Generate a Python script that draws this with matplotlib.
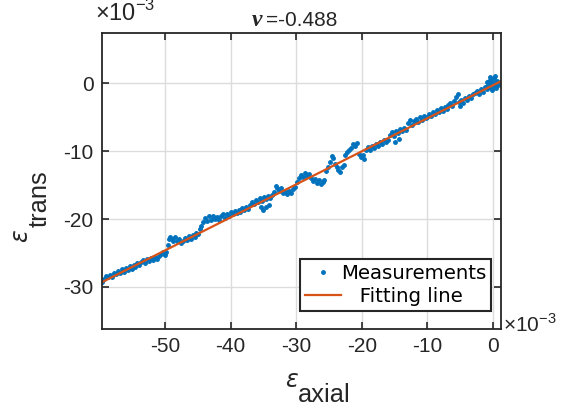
import numpy as np
import matplotlib
matplotlib.use("Agg")
import matplotlib.pyplot as plt

plt.rcParams["axes.unicode_minus"] = False
plt.rcParams["font.family"] = ["Liberation Sans", "DejaVu Sans"]
plt.rcParams["mathtext.fontset"] = "custom"
plt.rcParams["mathtext.rm"] = "Liberation Sans"
plt.rcParams["mathtext.it"] = "DejaVu Sans:italic"

# measured strains, in units of 1e-3
axial = [
    -59.6, -59.3, -59.0, -58.7, -58.4, -58.1, -57.8, -57.5, -57.2, -56.9,
    -56.6, -56.3, -56.0, -55.7, -55.4, -55.1, -54.8, -54.5, -54.2, -53.9, -53.6,
    -53.3, -53.0, -52.7, -52.4, -52.1, -51.8, -51.5, -51.2, -50.9,
    -50.6, -50.3, -50.0, -49.8,
    -49.6, -49.4, -49.2, -49.0, -48.8, -48.5, -48.2, -47.9, -47.6,
    -47.3, -47.0, -46.7, -46.4, -46.1, -45.8, -45.5, -45.2, -44.9,
    -44.7, -44.5, -44.2, -43.9, -43.6, -43.3, -43.0, -42.7, -42.4, -42.1, -41.8,
    -41.5, -41.2, -40.9, -40.6, -40.3, -40.0, -39.7, -39.4, -39.1, -38.8, -38.5,
    -38.2, -37.9, -37.6, -37.3,
    -37.0, -36.7, -36.4, -36.1, -35.8, -35.5, -35.2, -34.9, -34.6, -34.3, -34.0,
    -33.7, -35.4, -35.0, -34.6, -34.2,
    -33.4, -33.1, -32.9, -32.6, -32.3, -32.0, -31.7, -31.4, -31.1, -30.8, -30.5, -30.2,
    -29.9, -29.6, -29.3, -29.0, -28.7, -28.4, -28.1, -27.8, -27.5, -27.2, -26.9,
    -26.6, -26.3, -26.0, -25.7,
    -25.4, -25.1, -24.8, -24.6, -24.4, -24.1, -23.8,
    -23.6, -23.3, -23.0, -22.7,
    -22.5, -22.2, -21.9, -21.6, -21.3, -21.0, -20.7, -20.5, -20.2, -19.9, -19.6,
    -19.3, -19.0, -18.7, -18.4, -18.1, -17.8, -17.5, -17.2, -16.9, -16.6, -16.3, -16.0,
    -15.7, -15.4, -15.1, -14.8, -14.5, -14.2, -13.9, -13.6, -13.3, -15.0, -14.4,
    -13.0, -12.7, -12.4, -12.1, -11.8, -11.5, -11.2, -10.9, -10.6, -10.3,
    -10.0, -9.7, -9.4, -9.1, -8.8, -8.5, -8.2, -7.9, -7.6, -7.3, -7.0,
    -6.8, -6.5, -6.2, -5.9, -5.6, -5.4, -5.2, -4.9, -4.6, -4.3, -4.0, -3.7, -3.4, -3.1, -5.0,
    -2.8, -2.5, -2.2, -1.9, -1.6, -1.3, -1.0, -0.8, -0.6, -0.4, -0.2, 0.0, 0.2, 0.4,
    0.6, -0.5, -0.1, 0.3, 0.5, -0.9, -0.3, 0.1, 0.4, 0.7,
]
trans = [
    -29.3, -28.9, -28.4, -28.6, -28.2, -28.5, -27.9, -28.1, -27.7, -27.9,
    -27.4, -27.8, -27.2, -27.5, -26.9, -27.3, -26.8, -27.1, -26.5, -26.8, -26.3,
    -26.1, -26.5, -25.9, -26.2, -25.8, -26.0, -25.6, -25.9, -25.4,
    -25.2, -24.9, -25.3, -24.8,
    -23.8, -23.0, -22.6, -22.9, -23.2, -22.7, -23.3, -23.0, -23.5,
    -23.3, -22.8, -23.1, -22.5, -22.9, -22.3, -22.6, -22.0, -22.2,
    -21.5, -21.1, -20.4, -19.8, -20.3, -19.6, -20.1, -19.5, -20.0, -19.7, -20.2,
    -19.6, -19.3, -19.8, -19.2, -19.5, -19.0, -19.3, -18.8, -19.1, -18.6, -18.9,
    -18.4, -18.7, -18.2, -18.5,
    -17.9, -17.5, -17.8, -17.2, -17.5, -16.9, -17.3, -16.8, -17.1, -16.6, -16.9,
    -16.4, -18.2, -18.6, -18.3, -18.0,
    -16.0, -15.1, -15.4, -15.9, -15.5, -16.2, -15.8, -16.3, -15.9, -16.1, -15.6, -15.3,
    -14.6, -14.0, -13.5, -13.8, -13.2, -13.6, -13.3, -13.9, -14.4, -14.1, -14.7,
    -14.3, -14.9, -14.5, -14.2,
    -13.0, -12.4, -11.6, -10.7, -11.0, -11.9, -12.3,
    -12.8, -13.1, -12.4, -12.0,
    -10.6, -10.1, -9.8, -9.5, -8.9, -9.2, -8.8, -10.4, -10.9, -10.5, -11.1,
    -9.9, -9.4, -9.8, -9.2, -9.5, -8.9, -9.2, -8.6, -8.9, -8.4, -8.7, -8.3,
    -7.6, -7.2, -7.8, -7.0, -7.4, -6.8, -7.1, -6.6, -6.9, -8.6, -8.2,
    -5.9, -5.4, -6.1, -5.6, -5.2, -5.7, -5.0, -5.4, -4.8, -5.1,
    -4.9, -4.5, -4.8, -4.2, -4.6, -3.9, -4.3, -3.7, -4.1, -3.5, -3.8,
    -3.2, -2.9, -3.3, -2.6, -2.0, -1.6, -2.8, -2.4, -2.9, -2.2, -2.5, -1.9, -2.2, -1.6, -3.4,
    -1.5, -1.2, -1.6, -0.9, -1.3, -0.6, -0.9, -0.2, 0.3, -0.5, 0.6, 0.1, 0.8, -0.3,
    0.4, 0.9, -1.0, 1.0, -0.7, 0.2, -0.1, -0.6, 0.2, -0.2,
]

# fitted line endpoints
fit_axial = [-59.6, 1.2]
fit_trans = [-29.3, 0.3]
nu = -0.488

xticks = [-50, -40, -30, -20, -10, 0]
yticks = [-30, -20, -10, 0]

W, H = 574, 411
fig = plt.figure(figsize=(W / 100, H / 100), dpi=100)
ax = fig.add_axes([102 / W, 1 - 329 / H, 399 / W, 296 / H])

ax.plot(axial, trans, ".", color="#0072BD", markersize=5, label="Measurements")
ax.plot(fit_axial, fit_trans, "-", color="#D95319", linewidth=1.6, label="   Fitting line")

ax.set_xlim(-59.6, 1.2)
ax.set_ylim(-36.2, 7.4)
ax.set_xticks(xticks)
ax.set_yticks(yticks)
ax.set_xticklabels([str(t) for t in xticks])
ax.set_yticklabels([str(t) for t in yticks])
ax.tick_params(direction="in", length=5, width=1.2, labelsize=15, colors="#262626",
               top=True, right=True, pad=6)
ax.grid(True, color="#dcdcdc", linewidth=1)
ax.set_axisbelow(True)
for s in ax.spines.values():
    s.set_linewidth(1.3)
    s.set_color("#262626")

# title: bold italic nu followed by the value
fig.text(252 / W, 1 - 26 / H, "ν", fontsize=17, family="Liberation Serif",
         weight="bold", style="italic", color="#262626", ha="left", va="baseline")
fig.text(266 / W, 1 - 26 / H, "=" + str(nu), fontsize=15, color="#262626",
         ha="left", va="baseline")

# labels: MATLAB-style subscripts at full size
fig.text(285 / W, 1 - 387 / H, r"$\epsilon$", fontsize=17, color="#262626",
         ha="left", va="baseline")
fig.text(298 / W, 1 - 402 / H, "axial", fontsize=18.3, color="#262626",
         ha="left", va="baseline")
fig.text(28 / W, 1 - 243 / H, r"$\epsilon$", fontsize=17, color="#262626",
         rotation=90, ha="left", va="baseline", rotation_mode="anchor")
fig.text(47 / W, 1 - 227 / H, "trans", fontsize=18.3, color="#262626",
         rotation=90, ha="left", va="baseline", rotation_mode="anchor")

# exponent labels
fig.text(95 / W, 1 - 21 / H, r"$\times$10$^{\mathregular{-3}}$", fontsize=17,
         color="#262626", ha="left", va="baseline")
fig.text(503 / W, 1 - 332 / H, r"$\times$10$^{\mathregular{-3}}$", fontsize=15,
         color="#262626", ha="left", va="baseline")

leg = ax.legend(loc="lower right", bbox_to_anchor=(491 / W, 1 - 311 / H),
                bbox_transform=fig.transFigure, numpoints=1,
                prop={"family": "DejaVu Sans", "size": 14.2}, fancybox=False,
                edgecolor="#262626", framealpha=1, handlelength=1.8,
                borderpad=0.25, labelspacing=0.2, handletextpad=0.0, borderaxespad=0)
leg.get_frame().set_linewidth(1.5)

fig.savefig("out.png", dpi=100)
